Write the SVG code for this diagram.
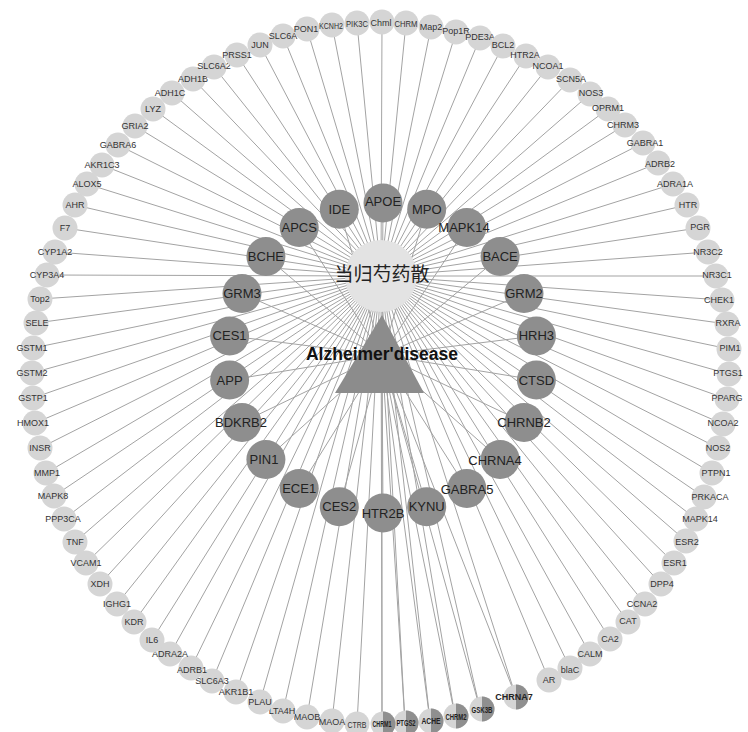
<svg xmlns="http://www.w3.org/2000/svg" width="748" height="732" viewBox="0 0 748 732">
<style>
.e{stroke:#a3a3a3;stroke-width:1;fill:none}
.o circle{fill:#d5d5d5}
.o text{font-family:"Liberation Sans",Arial,sans-serif;font-size:9px;fill:#333;text-anchor:middle;dominant-baseline:central}
.s .l{fill:#d5d5d5}
.s .r{fill:#8f8f8f}
.s text{font-family:"Liberation Sans",Arial,sans-serif;font-size:9px;font-weight:bold;fill:#222;text-anchor:middle;dominant-baseline:central}
.i circle{fill:#8e8e8e}
.i text{font-family:"Liberation Sans",Arial,sans-serif;font-size:13px;fill:#222;text-anchor:middle;dominant-baseline:central}
</style>
<rect width="748" height="732" fill="#fff"/>
<g id="edges" class="e">
<path d="M381 276L260 45M381 276L283 36M381 276L307 29M381 276L332 25M381 276L357 23M381 276L382 22M381 276L406 23M381 276L431 27M381 276L456 32M381 276L480 38M381 276L503 46M381 276L526 56M381 276L548 67M381 276L570 80M381 276L590 94M381 276L608 109M381 276L625 125M381 276L643 143M381 276L658 163M381 276L673 184M381 276L687 205M381 276L698 228M381 276L708 252M381 276L716 276M381 276L722 300M381 276L727 324M381 276L729 349M381 276L729 374M381 276L727 399M381 276L723 424M381 276L718 448M381 276L712 473M381 276L704 497M381 276L696 519M381 276L686 541M381 276L674 563M381 276L661 584M381 276L645 604M381 276L628 622M381 276L610 639M381 276L590 654M381 276L570 668M381 276L549 680M381 276L516 697M381 276L480 709M381 276L455 716M381 276L430 721M381 276L405 723M381 276L382 724M381 276L357 724M381 276L332 721M381 276L307 717M381 276L283 711M381 276L260 702M381 276L236 692M381 276L212 681M381 276L191 668M381 276L170 654M381 276L152 640M381 276L134 622M381 276L117 604M381 276L100 584M381 276L86 563M381 276L75 542M381 276L64 519M381 276L54 496M381 276L46 473M381 276L40 448M381 276L35 423M381 276L33 398M381 276L32 373M381 276L33 348M381 276L36 323M381 276L40 299M381 276L47 275M381 276L55 252M381 276L65 228M381 276L75 205M381 276L87 184M381 276L102 165M381 276L118 145M381 276L135 126M381 276L153 109M381 276L172 93M381 276L193 79M381 276L214 67M381 276L237 55"/>
<path d="M382 355L383 203M382 355L426.7 209.3M382 355L466.8 227.6M382 355L500.1 256.5M382 355L524 293.6M382 355L536.4 335.9M382 355L536.4 380.1M382 355L524 422.4M382 355L500.1 459.5M382 355L466.8 488.4M382 355L426.7 506.7M382 355L383 513M382 355L339.3 506.7M382 355L299.2 488.4M382 355L265.9 459.5M382 355L242 422.4M382 355L229.6 380.1M382 355L229.6 335.9M382 355L242 293.6M382 355L265.9 256.5M382 355L299.2 227.6M382 355L339.3 209.3M382 355L516 697M382 355L480 709M382 355L455 716M382 355L430 721M382 355L405 723M382 355L382 724"/>
</g>
<g id="drug"><circle cx="381" cy="276" r="36" fill="#e3e3e3"/><text x="382" y="272" font-family="'Noto Sans CJK SC',sans-serif" font-size="19" fill="#222" text-anchor="middle" dominant-baseline="central">当归芍药散</text></g>
<g id="disease"><polygon points="382,315 335,393 424,393" fill="#8c8c8c"/><text x="382" y="354" font-family="'Liberation Sans',Arial,sans-serif" font-size="17.5" font-weight="bold" fill="#111" text-anchor="middle" dominant-baseline="central">Alzheimer'disease</text></g>
<g id="inner">
<g id="APOE" class="i"><circle cx="383" cy="203" r="19.5"/><text x="383" y="201">APOE</text></g>
<g id="MPO" class="i"><circle cx="426.7" cy="209.3" r="19.5"/><text x="426.7" y="209.3">MPO</text></g>
<g id="MAPK14i" class="i"><circle cx="466.8" cy="227.6" r="19.5"/><text x="464" y="227.6">MAPK14</text></g>
<g id="BACE" class="i"><circle cx="500.1" cy="256.5" r="19.5"/><text x="500.1" y="256.5">BACE</text></g>
<g id="GRM2" class="i"><circle cx="524" cy="293.6" r="19.5"/><text x="524" y="293.6">GRM2</text></g>
<g id="HRH3" class="i"><circle cx="536.4" cy="335.9" r="19.5"/><text x="536.4" y="335.9">HRH3</text></g>
<g id="CTSD" class="i"><circle cx="536.4" cy="380.1" r="19.5"/><text x="536.4" y="380.1">CTSD</text></g>
<g id="CHRNB2" class="i"><circle cx="524" cy="422.4" r="19.5"/><text x="524" y="422.4">CHRNB2</text></g>
<g id="CHRNA4" class="i"><circle cx="500.1" cy="459.5" r="19.5"/><text x="495" y="460">CHRNA4</text></g>
<g id="GABRA5" class="i"><circle cx="466.8" cy="488.4" r="19.5"/><text x="467" y="489">GABRA5</text></g>
<g id="KYNU" class="i"><circle cx="426.7" cy="506.7" r="19.5"/><text x="426.7" y="506.7">KYNU</text></g>
<g id="HTR2B" class="i"><circle cx="383" cy="513" r="19.5"/><text x="383" y="513">HTR2B</text></g>
<g id="CES2" class="i"><circle cx="339.3" cy="506.7" r="19.5"/><text x="339.3" y="506.7">CES2</text></g>
<g id="ECE1" class="i"><circle cx="299.2" cy="488.4" r="19.5"/><text x="299.2" y="488.4">ECE1</text></g>
<g id="PIN1" class="i"><circle cx="265.9" cy="459.5" r="19.5"/><text x="264" y="459.5">PIN1</text></g>
<g id="BDKRB2" class="i"><circle cx="242" cy="422.4" r="19.5"/><text x="241" y="422.4">BDKRB2</text></g>
<g id="APP" class="i"><circle cx="229.6" cy="380.1" r="19.5"/><text x="229.6" y="380.1">APP</text></g>
<g id="CES1" class="i"><circle cx="229.6" cy="335.9" r="19.5"/><text x="229.6" y="335.9">CES1</text></g>
<g id="GRM3" class="i"><circle cx="242" cy="293.6" r="19.5"/><text x="242" y="293.6">GRM3</text></g>
<g id="BCHE" class="i"><circle cx="265.9" cy="256.5" r="19.5"/><text x="265.9" y="256.5">BCHE</text></g>
<g id="APCS" class="i"><circle cx="299.2" cy="227.6" r="19.5"/><text x="299.2" y="227.6">APCS</text></g>
<g id="IDE" class="i"><circle cx="339.3" cy="209.3" r="19.5"/><text x="339.3" y="209.3">IDE</text></g>
</g>
<g id="outer">
<g id="JUN" class="o"><circle cx="260" cy="45" r="12.5"/><text x="260" y="45">JUN</text></g>
<g id="SLC6A" class="o"><circle cx="283" cy="36" r="12.5"/><text x="283" y="36">SLC6A</text></g>
<g id="PON1" class="o"><circle cx="307" cy="29" r="12.5"/><text x="306" y="29">PON1</text></g>
<g id="KCNH2" class="o"><circle cx="332" cy="25" r="12.5"/><text x="331" y="26" textLength="24" lengthAdjust="spacingAndGlyphs">KCNH2</text></g>
<g id="PIK3C" class="o"><circle cx="357" cy="23" r="12.5"/><text x="357" y="24" textLength="22" lengthAdjust="spacingAndGlyphs">PIK3C</text></g>
<g id="Chml" class="o"><circle cx="382" cy="22" r="12.5"/><text x="381" y="23">Chml</text></g>
<g id="CHRM" class="o"><circle cx="406" cy="23" r="12.5"/><text x="406" y="24" textLength="23" lengthAdjust="spacingAndGlyphs">CHRM</text></g>
<g id="Map2" class="o"><circle cx="431" cy="27" r="12.5"/><text x="431" y="27">Map2</text></g>
<g id="Pop1R" class="o"><circle cx="456" cy="32" r="12.5"/><text x="456" y="31">Pop1R</text></g>
<g id="PDE3A" class="o"><circle cx="480" cy="38" r="12.5"/><text x="480" y="37">PDE3A</text></g>
<g id="BCL2" class="o"><circle cx="503" cy="46" r="12.5"/><text x="503" y="45">BCL2</text></g>
<g id="HTR2A" class="o"><circle cx="526" cy="56" r="12.5"/><text x="525" y="55">HTR2A</text></g>
<g id="NCOA1" class="o"><circle cx="548" cy="67" r="12.5"/><text x="548" y="66">NCOA1</text></g>
<g id="SCN5A" class="o"><circle cx="570" cy="80" r="12.5"/><text x="571" y="79">SCN5A</text></g>
<g id="NOS3" class="o"><circle cx="590" cy="94" r="12.5"/><text x="591" y="93">NOS3</text></g>
<g id="OPRM1" class="o"><circle cx="608" cy="109" r="12.5"/><text x="608" y="108">OPRM1</text></g>
<g id="CHRM3" class="o"><circle cx="625" cy="125" r="12.5"/><text x="623" y="125">CHRM3</text></g>
<g id="GABRA1" class="o"><circle cx="643" cy="143" r="12.5"/><text x="645" y="143">GABRA1</text></g>
<g id="ADRB2" class="o"><circle cx="658" cy="163" r="12.5"/><text x="660" y="164">ADRB2</text></g>
<g id="ADRA1A" class="o"><circle cx="673" cy="184" r="12.5"/><text x="675" y="184">ADRA1A</text></g>
<g id="HTR" class="o"><circle cx="687" cy="205" r="12.5"/><text x="688" y="205">HTR</text></g>
<g id="PGR" class="o"><circle cx="698" cy="228" r="12.5"/><text x="700" y="227">PGR</text></g>
<g id="NR3C2" class="o"><circle cx="708" cy="252" r="12.5"/><text x="708" y="252">NR3C2</text></g>
<g id="NR3C1" class="o"><circle cx="716" cy="276" r="12.5"/><text x="717" y="275">NR3C1</text></g>
<g id="CHEK1" class="o"><circle cx="722" cy="300" r="12.5"/><text x="719" y="300">CHEK1</text></g>
<g id="RXRA" class="o"><circle cx="727" cy="324" r="12.5"/><text x="728" y="323">RXRA</text></g>
<g id="PIM1" class="o"><circle cx="729" cy="349" r="12.5"/><text x="730" y="348">PIM1</text></g>
<g id="PTGS1" class="o"><circle cx="729" cy="374" r="12.5"/><text x="728" y="373">PTGS1</text></g>
<g id="PPARG" class="o"><circle cx="727" cy="399" r="12.5"/><text x="727" y="398">PPARG</text></g>
<g id="NCOA2" class="o"><circle cx="723" cy="424" r="12.5"/><text x="723" y="423">NCOA2</text></g>
<g id="NOS2" class="o"><circle cx="718" cy="448" r="12.5"/><text x="718" y="448">NOS2</text></g>
<g id="PTPN1" class="o"><circle cx="712" cy="473" r="12.5"/><text x="716" y="473">PTPN1</text></g>
<g id="PRKACA" class="o"><circle cx="704" cy="497" r="12.5"/><text x="710" y="497">PRKACA</text></g>
<g id="MAPK14o" class="o"><circle cx="696" cy="519" r="12.5"/><text x="700" y="519">MAPK14</text></g>
<g id="ESR2" class="o"><circle cx="686" cy="541" r="12.5"/><text x="687" y="542">ESR2</text></g>
<g id="ESR1" class="o"><circle cx="674" cy="563" r="12.5"/><text x="675" y="563">ESR1</text></g>
<g id="DPP4" class="o"><circle cx="661" cy="584" r="12.5"/><text x="662" y="584">DPP4</text></g>
<g id="CCNA2" class="o"><circle cx="645" cy="604" r="12.5"/><text x="642" y="604">CCNA2</text></g>
<g id="CAT" class="o"><circle cx="628" cy="622" r="12.5"/><text x="628" y="621">CAT</text></g>
<g id="CA2" class="o"><circle cx="610" cy="639" r="12.5"/><text x="610" y="639">CA2</text></g>
<g id="CALM" class="o"><circle cx="590" cy="654" r="12.5"/><text x="590" y="654">CALM</text></g>
<g id="blaC" class="o"><circle cx="570" cy="668" r="12.5"/><text x="570" y="670">blaC</text></g>
<g id="AR" class="o"><circle cx="549" cy="680" r="12.5"/><text x="549" y="680">AR</text></g>
<g id="CHRNA7" class="s"><circle class="l" cx="516" cy="697" r="12.5"/><path class="r" d="M516 684.5A12.5 12.5 0 0 1 516 709.5Z"/><text x="514" y="697">CHRNA7</text></g>
<g id="GSK3B" class="s"><circle class="l" cx="482" cy="709" r="12.5"/><path class="r" d="M482 696.5A12.5 12.5 0 0 1 482 721.5Z"/><text x="482" y="710" textLength="21" lengthAdjust="spacingAndGlyphs">GSK3B</text></g>
<g id="CHRM2" class="s"><circle class="l" cx="456" cy="716" r="12.5"/><path class="r" d="M456 703.5A12.5 12.5 0 0 1 456 728.5Z"/><text x="456" y="717" textLength="21" lengthAdjust="spacingAndGlyphs">CHRM2</text></g>
<g id="ACHE" class="s"><circle class="l" cx="431" cy="721" r="12.5"/><path class="r" d="M431 708.5A12.5 12.5 0 0 1 431 733.5Z"/><text x="431" y="721" textLength="19" lengthAdjust="spacingAndGlyphs">ACHE</text></g>
<g id="PTGS2" class="s"><circle class="l" cx="406" cy="723" r="12.5"/><path class="r" d="M406 710.5A12.5 12.5 0 0 1 406 735.5Z"/><text x="406" y="723" textLength="19" lengthAdjust="spacingAndGlyphs">PTGS2</text></g>
<g id="CHRM1" class="s"><circle class="l" cx="383" cy="724" r="12.5"/><path class="r" d="M383 711.5A12.5 12.5 0 0 1 383 736.5Z"/><text x="382" y="724" textLength="19" lengthAdjust="spacingAndGlyphs">CHRM1</text></g>
<g id="CTRB" class="o"><circle cx="357" cy="724" r="12.5"/><text x="357" y="725" textLength="19" lengthAdjust="spacingAndGlyphs">CTRB</text></g>
<g id="MAOA" class="o"><circle cx="332" cy="721" r="12.5"/><text x="332" y="722">MAOA</text></g>
<g id="MAOB" class="o"><circle cx="307" cy="717" r="12.5"/><text x="307" y="717">MAOB</text></g>
<g id="LTA4H" class="o"><circle cx="283" cy="711" r="12.5"/><text x="282" y="711">LTA4H</text></g>
<g id="PLAU" class="o"><circle cx="260" cy="702" r="12.5"/><text x="260" y="702">PLAU</text></g>
<g id="AKR1B1" class="o"><circle cx="236" cy="692" r="12.5"/><text x="236" y="692">AKR1B1</text></g>
<g id="SLC6A3" class="o"><circle cx="212" cy="681" r="12.5"/><text x="212" y="681">SLC6A3</text></g>
<g id="ADRB1" class="o"><circle cx="191" cy="668" r="12.5"/><text x="192" y="670">ADRB1</text></g>
<g id="ADRA2A" class="o"><circle cx="170" cy="654" r="12.5"/><text x="170" y="654">ADRA2A</text></g>
<g id="IL6" class="o"><circle cx="152" cy="640" r="12.5"/><text x="152" y="640">IL6</text></g>
<g id="KDR" class="o"><circle cx="134" cy="622" r="12.5"/><text x="134" y="622">KDR</text></g>
<g id="IGHG1" class="o"><circle cx="117" cy="604" r="12.5"/><text x="117" y="604">IGHG1</text></g>
<g id="XDH" class="o"><circle cx="100" cy="584" r="12.5"/><text x="100" y="584">XDH</text></g>
<g id="VCAM1" class="o"><circle cx="86" cy="563" r="12.5"/><text x="86" y="563">VCAM1</text></g>
<g id="TNF" class="o"><circle cx="75" cy="542" r="12.5"/><text x="75" y="542">TNF</text></g>
<g id="PPP3CA" class="o"><circle cx="64" cy="519" r="12.5"/><text x="63" y="519">PPP3CA</text></g>
<g id="MAPK8" class="o"><circle cx="54" cy="496" r="12.5"/><text x="53" y="496">MAPK8</text></g>
<g id="MMP1" class="o"><circle cx="46" cy="473" r="12.5"/><text x="47" y="473">MMP1</text></g>
<g id="INSR" class="o"><circle cx="40" cy="448" r="12.5"/><text x="40" y="448">INSR</text></g>
<g id="HMOX1" class="o"><circle cx="35" cy="423" r="12.5"/><text x="33" y="423">HMOX1</text></g>
<g id="GSTP1" class="o"><circle cx="33" cy="398" r="12.5"/><text x="33" y="398">GSTP1</text></g>
<g id="GSTM2" class="o"><circle cx="32" cy="373" r="12.5"/><text x="32" y="373">GSTM2</text></g>
<g id="GSTM1" class="o"><circle cx="33" cy="348" r="12.5"/><text x="32" y="348">GSTM1</text></g>
<g id="SELE" class="o"><circle cx="36" cy="323" r="12.5"/><text x="37" y="323">SELE</text></g>
<g id="Top2" class="o"><circle cx="40" cy="299" r="12.5"/><text x="40" y="299">Top2</text></g>
<g id="CYP3A4" class="o"><circle cx="47" cy="275" r="12.5"/><text x="47" y="275">CYP3A4</text></g>
<g id="CYP1A2" class="o"><circle cx="55" cy="252" r="12.5"/><text x="55" y="252">CYP1A2</text></g>
<g id="F7" class="o"><circle cx="65" cy="228" r="12.5"/><text x="65" y="228">F7</text></g>
<g id="AHR" class="o"><circle cx="75" cy="205" r="12.5"/><text x="75" y="205">AHR</text></g>
<g id="ALOX5" class="o"><circle cx="87" cy="184" r="12.5"/><text x="87" y="184">ALOX5</text></g>
<g id="AKR1C3" class="o"><circle cx="102" cy="165" r="12.5"/><text x="102" y="165">AKR1C3</text></g>
<g id="GABRA6" class="o"><circle cx="118" cy="145" r="12.5"/><text x="118" y="145">GABRA6</text></g>
<g id="GRIA2" class="o"><circle cx="135" cy="126" r="12.5"/><text x="135" y="126">GRIA2</text></g>
<g id="LYZ" class="o"><circle cx="153" cy="109" r="12.5"/><text x="153" y="109">LYZ</text></g>
<g id="ADH1C" class="o"><circle cx="172" cy="93" r="12.5"/><text x="170" y="93">ADH1C</text></g>
<g id="ADH1B" class="o"><circle cx="193" cy="79" r="12.5"/><text x="193" y="79">ADH1B</text></g>
<g id="SLC6A2" class="o"><circle cx="214" cy="67" r="12.5"/><text x="214" y="66">SLC6A2</text></g>
<g id="PRSS1" class="o"><circle cx="237" cy="55" r="12.5"/><text x="237" y="55">PRSS1</text></g>
</g>
</svg>
